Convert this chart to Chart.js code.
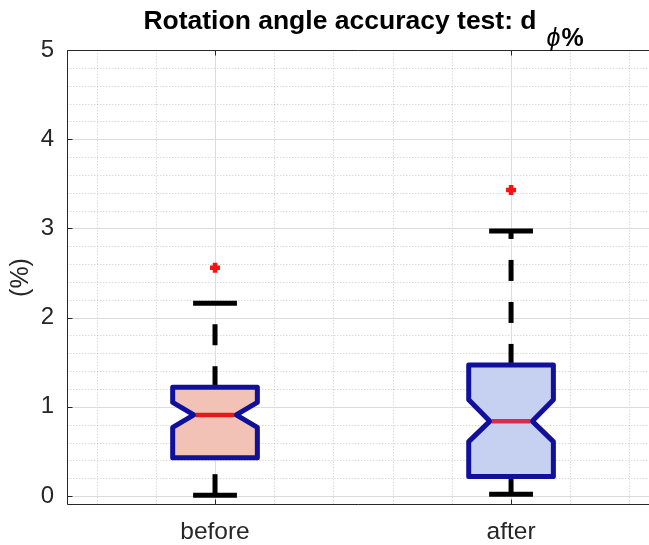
<!DOCTYPE html>
<html>
<head>
<meta charset="utf-8">
<script src="https://cdn.jsdelivr.net/npm/chart.js@4"></script>
<style>
  html, body { margin: 0; padding: 0; background: #fff; }
</style>
</head>
<body>
<canvas id="boxChart" width="649" height="545"></canvas>
<script>
// box plot data
const categories = ['before', 'after'];
const positions = [1, 2];
const q1 = [0.43, 0.22];
const medians = [0.91, 0.84];
const q3 = [1.22, 1.47];
const notchLow = [0.77, 0.61];
const notchHigh = [1.05, 1.08];
const whiskerLow = [0.01, 0.02];
const whiskerHigh = [2.16, 2.97];
const outliers = [[2.56], [3.43]];
const yTicks = [0, 1, 2, 3, 4, 5];

const boxFills = ['#f1c2b5', '#c6d0f1'];
const medianColors = ['#e31a1a', '#d2304a'];
const edgeColor = '#10109c';
const FONT = "'Liberation Sans', Arial, sans-serif";

const boxHalf = 0.143;   // half box width in x units
const capHalf = 0.074;
const minorStep = 0.2;

function line(ctx, x1, y1, x2, y2) {
    ctx.beginPath();
    ctx.moveTo(x1, y1);
    ctx.lineTo(x2, y2);
    ctx.stroke();
}

const boxPlugin = {
    id: 'matlabBox',
    beforeDatasetsDraw(chart) {
        const ctx = chart.ctx;
        const { left, right, top, bottom } = chart.chartArea;
        const xs = chart.scales.x;
        const ys = chart.scales.y;
        ctx.save();

        // minor grid (dotted)
        ctx.strokeStyle = 'rgba(0,0,0,0.14)';
        ctx.lineWidth = 1;
        ctx.setLineDash([1.5, 1.5]);
        for (let v = xs.min + minorStep / 2; v < xs.max; v += minorStep) {
            const r = Math.round(v * 10) / 10;
            if (Math.abs(r - Math.round(r)) < 1e-6) continue;
            const px = Math.round(xs.getPixelForValue(r)) + 0.5;
            line(ctx, px, top, px, bottom);
        }
        for (let v = minorStep; v < ys.max; v += minorStep) {
            const r = Math.round(v * 10) / 10;
            if (Math.abs(r - Math.round(r)) < 1e-6) continue;
            const py = Math.round(ys.getPixelForValue(r)) + 0.5;
            line(ctx, left, py, right, py);
        }

        // major grid
        ctx.setLineDash([]);
        ctx.strokeStyle = '#dcdcdc';
        positions.forEach(p => {
            const px = Math.round(xs.getPixelForValue(p)) + 0.5;
            line(ctx, px, top, px, bottom);
        });
        yTicks.forEach(t => {
            const py = Math.round(ys.getPixelForValue(t)) + 0.5;
            line(ctx, left, py, right, py);
        });

        // axes box + inward ticks
        ctx.strokeStyle = '#262626';
        const l = Math.round(left) + 0.5, t0 = Math.round(top) + 0.5, b = Math.round(bottom) - 0.5;
        line(ctx, l, t0, right, t0);
        line(ctx, l, t0, l, b);
        line(ctx, l, b, right, b);
        yTicks.forEach(t => {
            const py = Math.round(ys.getPixelForValue(t)) + 0.5;
            line(ctx, l, py, l + 5, py);
        });
        positions.forEach(p => {
            const px = Math.round(xs.getPixelForValue(p)) + 0.5;
            line(ctx, px, b, px, b - 5);
            line(ctx, px, t0, px, t0 + 5);
        });

        // boxes
        positions.forEach((p, i) => {
            const cx = xs.getPixelForValue(p);
            const hw = xs.getPixelForValue(p + boxHalf) - cx;
            const cw = xs.getPixelForValue(p + capHalf) - cx;
            const yQ1 = ys.getPixelForValue(q1[i]);
            const yQ3 = ys.getPixelForValue(q3[i]);
            const yMed = ys.getPixelForValue(medians[i]);
            const yNl = ys.getPixelForValue(notchLow[i]);
            const yNh = ys.getPixelForValue(notchHigh[i]);
            const yWl = ys.getPixelForValue(whiskerLow[i]);
            const yWh = ys.getPixelForValue(whiskerHigh[i]);

            // whiskers (dashed), drawn bottom to top
            ctx.strokeStyle = '#000';
            ctx.lineWidth = 5;
            ctx.lineCap = 'butt';
            ctx.setLineDash([21, 21]);
            line(ctx, cx, yQ3, cx, yWh);
            line(ctx, cx, yWl, cx, yQ1);
            ctx.setLineDash([]);
            line(ctx, cx - cw, yWh, cx + cw, yWh);
            line(ctx, cx - cw, yWl, cx + cw, yWl);

            // notched box
            ctx.beginPath();
            ctx.moveTo(cx - hw, yQ3);
            ctx.lineTo(cx + hw, yQ3);
            ctx.lineTo(cx + hw, yNh);
            ctx.lineTo(cx + hw / 2, yMed);
            ctx.lineTo(cx + hw, yNl);
            ctx.lineTo(cx + hw, yQ1);
            ctx.lineTo(cx - hw, yQ1);
            ctx.lineTo(cx - hw, yNl);
            ctx.lineTo(cx - hw / 2, yMed);
            ctx.lineTo(cx - hw, yNh);
            ctx.closePath();
            ctx.fillStyle = boxFills[i];
            ctx.fill();
            ctx.strokeStyle = edgeColor;
            ctx.lineWidth = 5;
            ctx.lineJoin = 'round';
            ctx.stroke();

            // median
            ctx.strokeStyle = medianColors[i];
            ctx.lineWidth = 4.5;
            line(ctx, cx - hw / 2 + 2, yMed, cx + hw / 2 - 2, yMed);
        });
        ctx.restore();
    },
    afterDraw(chart) {
        const ctx = chart.ctx;
        const xs = chart.scales.x;
        ctx.save();
        const main = 'Rotation angle accuracy test: d';
        const mainFont = 'bold 26.5px ' + FONT;
        const phiFont = 'italic 25px ' + FONT;
        const pctFont = 'bold 25px ' + FONT;
        ctx.font = mainFont;
        const wMain = ctx.measureText(main).width;
        ctx.font = phiFont;
        const wPhi = ctx.measureText('\u03d5').width;
        ctx.font = pctFont;
        const wPct = ctx.measureText('%').width;
        const gap = 10;
        const total = wMain + gap + wPhi + wPct;
        const x0 = xs.getPixelForValue(1.5) - total / 2;
        ctx.fillStyle = '#000';
        ctx.textBaseline = 'alphabetic';
        ctx.textAlign = 'left';
        ctx.font = mainFont;
        ctx.fillText(main, x0, 29);
        ctx.font = phiFont;
        ctx.fillText('\u03d5', x0 + wMain + gap, 46);
        ctx.font = pctFont;
        ctx.fillText('%', x0 + wMain + gap + wPhi + 1, 46);
        ctx.restore();
    }
};

const ctx = document.getElementById('boxChart').getContext('2d');
const boxChart = new Chart(ctx, {
    type: 'scatter',
    data: {
        datasets: [{
            label: 'outliers',
            data: outliers.flatMap((list, i) => list.map(v => ({ x: positions[i], y: v }))),
            pointStyle: 'cross',
            radius: 5,
            borderWidth: 4.5,
            borderColor: '#ff1010',
            backgroundColor: '#ff1010'
        }]
    },
    options: {
        responsive: false,
        animation: false,
        devicePixelRatio: 1,
        layout: { autoPadding: false, padding: { top: 50, left: 0, right: 0, bottom: 0 } },
        plugins: { legend: { display: false }, tooltip: { enabled: false } },
        scales: {
            x: {
                type: 'linear',
                min: 0.5,
                max: 2.466,
                grid: { display: false, drawTicks: false },
                border: { display: false },
                afterBuildTicks: axis => { axis.ticks = positions.map(v => ({ value: v })); },
                afterFit: axis => {
                    axis.height = 40;
                    axis.paddingLeft = 0;
                    axis.paddingRight = 0;
                },
                ticks: {
                    autoSkip: false,
                    maxRotation: 0,
                    padding: 13,
                    color: '#262626',
                    font: { family: FONT, size: 24.5 },
                    callback: v => categories[positions.indexOf(v)]
                }
            },
            y: {
                min: -0.1,
                max: 5,
                grid: { display: false, drawTicks: false },
                border: { display: false },
                afterBuildTicks: axis => { axis.ticks = yTicks.map(v => ({ value: v })); },
                afterFit: axis => { axis.width = 67; },
                ticks: {
                    padding: 13,
                    color: '#262626',
                    font: { family: FONT, size: 24 },
                    callback: v => String(v)
                },
                title: {
                    display: true,
                    text: '(%)',
                    color: '#262626',
                    font: { family: FONT, size: 25 },
                    padding: { top: 6, bottom: 0 }
                }
            }
        }
    },
    plugins: [boxPlugin]
});
</script>
</body>
</html>
